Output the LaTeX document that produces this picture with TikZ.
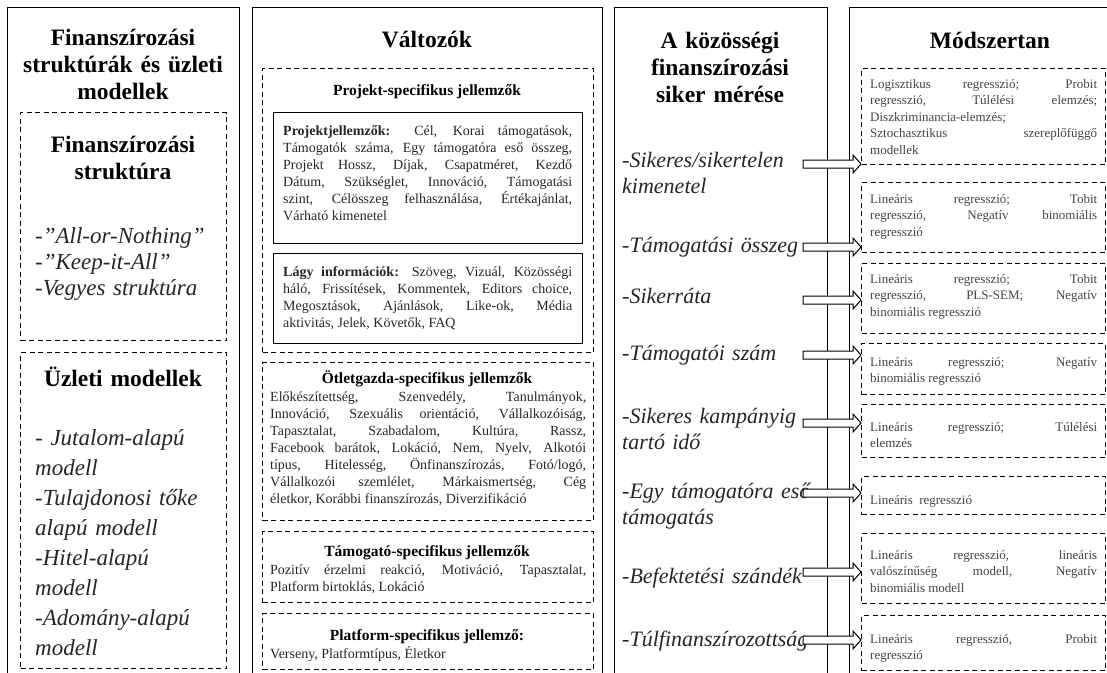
\documentclass[tikz,border=0pt]{standalone}
\usepackage{fontspec}
\setmainfont{Liberation Serif}
\usetikzlibrary{calc}

\definecolor{bodyink}{HTML}{262626}
\definecolor{methink}{HTML}{444444}
\definecolor{itemink}{HTML}{262626}

\tikzset{
  panel/.style={draw=black, line width=1.3pt, anchor=north west, inner sep=0pt},
  dashbox/.style={draw=black, line width=1pt, dash pattern=on 5pt off 3.5pt, anchor=north west, inner sep=0pt},
  solidbox/.style={draw=black, line width=1.3pt, anchor=north west, inner sep=0pt},
  headtext/.style={font=\fontsize{23.5}{27}\selectfont\bfseries, align=center, anchor=north,
    inner sep=0pt, text width=#1, execute at begin node=\strut},
  subhead/.style={font=\fontsize{15.5}{17}\selectfont\bfseries, anchor=center, inner sep=0pt,
    execute at begin node=\strut},
  itemtext/.style={font=\fontsize{22}{26}\selectfont\itshape, text=itemink, align=left,
    anchor=north west, inner sep=0pt, text width=#1, execute at begin node=\strut},
  leftitems/.style={itemtext=#1, font=\fontsize{23}{26}\selectfont\itshape},
  modelitems/.style={itemtext=#1, font=\fontsize{23}{30}\selectfont\itshape},
  bodypar/.style={font=\fontsize{14}{17}\selectfont, text=bodyink, align=justify,
    anchor=north west, inner sep=0pt, text width=#1,
    execute at begin node={\hyphenpenalty=10000\exhyphenpenalty=10000\strut}},
  methpar/.style={font=\fontsize{13}{16.5}\selectfont, text=methink, align=justify,
    anchor=north west, inner sep=0pt, text width=227pt,
    execute at begin node={\hyphenpenalty=10000\exhyphenpenalty=10000\strut}},
  blockarrow/.style={draw=black, line width=1pt, fill=white, line join=miter,
    to path={($(\tikztostart)+(0,-4)$) -- ($(\tikztotarget)+(-8,-4)$)
      -- ($(\tikztotarget)+(-8,-9)$) -- (\tikztotarget)
      -- ($(\tikztotarget)+(-8,9)$) -- ($(\tikztotarget)+(-8,4)$)
      -- ($(\tikztostart)+(0,4)$) -- cycle}}
}

\begin{document}
\begin{tikzpicture}[x=1pt,y=-1pt]
\useasboundingbox (0,0) rectangle (1107,672);
\clip (0,0) rectangle (1107,672);

% ---------- column 1: funding structures and business models
\node[panel, minimum width=232, minimum height=720] (col1) at (7,7) {};
\node[headtext=226] (col1head) at (123,26.7) {Finanszírozási\\struktúrák és üzleti\\modellek};
\node[dashbox, minimum width=206, minimum height=228] (fsbox) at (20,112) {};
\node[headtext=200] (fshead) at (123,133.7) {Finanszírozási\\struktúra};
\node[leftitems=190] (fsitems) at (35,225.3) {-"All-or-Nothing"\\-"Keep-it-All"\\-Vegyes struktúra};
\node[dashbox, minimum width=206, minimum height=316] (bmbox) at (20,352) {};
\node[headtext=200] (bmhead) at (123,366.7) {Üzleti modellek};
\node[modelitems=190] (bmitems) at (35,424.5) {- Jutalom-alapú\\modell\\-Tulajdonosi tőke\\alapú modell\\-Hitel-alapú\\modell\\-Adomány-alapú\\modell};

% ---------- column 2: variables
\node[panel, minimum width=350, minimum height=720] (col2) at (252,7) {};
\node[headtext=300] (col2head) at (427,28.7) {Változók};
\node[dashbox, minimum width=331, minimum height=284] (psbox) at (262,68) {};
\node[subhead] (pshead) at (427,92) {Projekt-specifikus jellemzők};
\node[solidbox, minimum width=309, minimum height=131] (pjbox) at (273,112) {};
\node[bodypar=289] (pjtext) at (283,123.5) {\textbf{Projektjellemzők:} Cél, Korai támogatások,\linebreak
 Támogatók száma, Egy támogatóra eső összeg,\linebreak
 Projekt Hossz, Díjak, Csapatméret, Kezdő\linebreak
 Dátum, Szükséglet, Innováció, Támogatási\linebreak
 szint, Célösszeg felhasználása, Értékajánlat,\linebreak
 Várható kimenetel};
\node[solidbox, minimum width=309, minimum height=90] (lgbox) at (273,253) {};
\node[bodypar=289] (lgtext) at (283,264.5) {\textbf{Lágy információk:} Szöveg, Vizuál, Közösségi\linebreak
 háló, Frissítések, Kommentek, Editors choice,\linebreak
 Megosztások, Ajánlások, Like-ok, Média\linebreak
 aktivitás, Jelek, Követők, FAQ};
\node[dashbox, minimum width=331, minimum height=158] (ogbox) at (262,362) {};
\node[subhead] (oghead) at (427,380) {Ötletgazda-specifikus jellemzők};
\node[bodypar=316] (ogtext) at (270,389.5) {Előkészítettség, Szenvedély, Tanulmányok,\linebreak
 Innováció, Szexuális orientáció, Vállalkozóiság,\linebreak
 Tapasztalat, Szabadalom, Kultúra, Rassz,\linebreak
 Facebook barátok, Lokáció, Nem, Nyelv, Alkotói\linebreak
 típus, Hitelesség, Önfinanszírozás, Fotó/logó,\linebreak
 Vállalkozói szemlélet, Márkaismertség, Cég\linebreak
 életkor, Korábbi finanszírozás, Diverzifikáció};
\node[dashbox, minimum width=331, minimum height=71] (tsbox) at (262,531) {};
\node[subhead] (tshead) at (427,553) {Támogató-specifikus jellemzők};
\node[bodypar=316] (tstext) at (270,562.5) {Pozitív érzelmi reakció, Motiváció, Tapasztalat,\linebreak
 Platform birtoklás, Lokáció};
\node[dashbox, minimum width=331, minimum height=56] (plbox) at (262,613) {};
\node[subhead] (plhead) at (427,637) {Platform-specifikus jellemző:};
\node[bodypar=316] (pltext) at (270,646.5) {Verseny, Platformtípus, Életkor};

% ---------- column 3: measuring crowdfunding success
\node[panel, minimum width=213, minimum height=720] (col3) at (614,7) {};
\node[headtext=205] (col3head) at (720,29.7) {A közösségi\\finanszírozási\\siker mérése};
\node[itemtext=200] (m1) at (622,149) {-Sikeres/sikertelen\\kimenetel};
\node[itemtext=200] (m2) at (622,234) {-Támogatási összeg};
\node[itemtext=200] (m3) at (622,285) {-Sikerráta};
\node[itemtext=200] (m4) at (622,342) {-Támogatói szám};
\node[itemtext=200] (m5) at (622,405) {-Sikeres kampányig\\tartó idő};
\node[itemtext=200] (m6) at (622,480) {-Egy támogatóra eső\\támogatás};
\node[itemtext=200] (m7) at (622,565) {-Befektetési szándék};
\node[itemtext=200] (m8) at (622,628) {-Túlfinanszírozottság};

% ---------- column 4: methodology
\node[panel, minimum width=280, minimum height=720] (col4) at (849,7) {};
\node[headtext=240] (col4head) at (990,29.7) {Módszertan};
\node[dashbox, minimum width=244, minimum height=96] (b1) at (861,68) {};
\node[methpar] (b1text) at (870,76.6) {Logisztikus regresszió; Probit\linebreak
 regresszió, Túlélési elemzés;\linebreak
 Diszkriminancia-elemzés;\newline
 Sztochasztikus szereplőfüggő\linebreak
 modellek};
\node[dashbox, minimum width=244, minimum height=70] (b2) at (861,182) {};
\node[methpar] (b2text) at (870,191.6) {Lineáris regresszió; Tobit\linebreak
 regresszió, Negatív binomiális\linebreak
 regresszió};
\node[dashbox, minimum width=244, minimum height=70] (b3) at (861,263) {};
\node[methpar] (b3text) at (870,271.6) {Lineáris regresszió; Tobit\linebreak
 regresszió, PLS-SEM; Negatív\linebreak
 binomiális regresszió};
\node[dashbox, minimum width=244, minimum height=51] (b4) at (861,343) {};
\node[methpar] (b4text) at (870,354.6) {Lineáris regresszió; Negatív\linebreak
 binomiális regresszió};
\node[dashbox, minimum width=244, minimum height=53] (b5) at (861,404) {};
\node[methpar] (b5text) at (870,419.6) {Lineáris regresszió; Túlélési\linebreak
 elemzés};
\node[dashbox, minimum width=244, minimum height=38] (b6) at (861,476) {};
\node[methpar] (b6text) at (870,492.6) {Lineáris\ \ regresszió};
\node[dashbox, minimum width=244, minimum height=70] (b7) at (861,533) {};
\node[methpar] (b7text) at (870,547.6) {Lineáris regresszió, lineáris\linebreak
 valószínűség modell, Negatív\linebreak
 binomiális modell};
\node[dashbox, minimum width=244, minimum height=55] (b8) at (861,615) {};
\node[methpar] (b8text) at (870,631.6) {Lineáris regresszió, Probit\linebreak
 regresszió};

% ---------- block arrows from the success measures to the methods
\coordinate (s1) at (803,164);
\coordinate (s2) at (803,247);
\coordinate (s3) at (803,300);
\coordinate (s4) at (803,355);
\coordinate (s5) at (803,423);
\coordinate (s6) at (803,493);
\coordinate (s7) at (803,572);
\coordinate (s8) at (803,640);
\foreach \i in {1,...,8} {
  \coordinate (t\i) at (b\i.west |- s\i);
  \draw[blockarrow] (s\i) to (t\i);
}
\end{tikzpicture}
\end{document}
